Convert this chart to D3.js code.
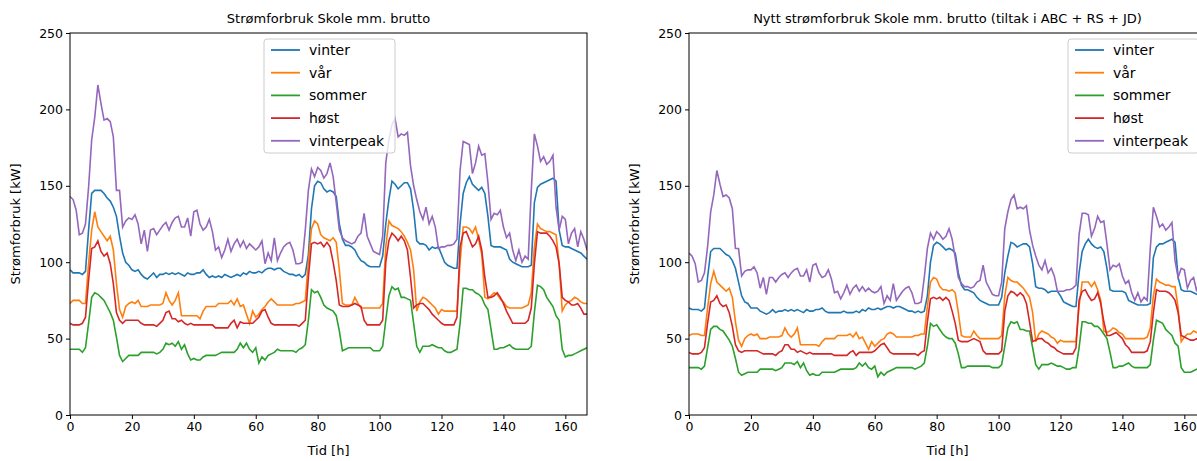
<!DOCTYPE html>
<html><head><meta charset="utf-8">
<script src="https://cdn.jsdelivr.net/npm/d3@7"></script>
<style>body{margin:0;background:#fff}text{font-family:"DejaVu Sans",sans-serif}</style>
</head><body><svg id="c" width="1197" height="461"></svg>
<script>
const seriesNames = ["vinter","vår","sommer","høst","vinterpeak"];
const colors = ["#1f77b4","#ff7f0e","#2ca02c","#d62728","#9467bd"];
const yTicks = [0,50,100,150,200,250];
const xTicks = [0,20,40,60,80,100,120,140,160];
const titles = ["Strømforbruk Skole mm. brutto","Nytt strømforbruk Skole mm. brutto (tiltak i ABC + RS + JD)"];

const vinterL = [95,93,93,93,92,94,
121,145,147,147,147,145,142,140,136,130,117,106,
100,98,95,94,95,92,90,89,91,93,90,92,
92,93,92,93,92,93,92,91,93,92,92,93,
93,95,92,90,91,90,91,90,92,91,90,91,
92,91,93,92,94,93,93,94,93,95,96,96,
95,96,96,94,93,92,92,91,92,90,92,105,
135,150,153,152,148,146,147,146,143,125,115,111,
111,110,108,104,101,100,98,97,97,97,97,104,
125,141,153,151,148,150,152,152,148,134,114,112,
112,111,108,110,109,110,105,100,98,97,96,96,
125,145,152,156,151,149,147,149,145,130,111,110,
110,110,109,108,102,100,99,98,97,97,97,98,
139,149,151,152,153,154,155,153,121,111,110,110,
109,108,107,106,104,102];
const varL = [73,75,75,75,73,73,
99,121,133,123,120,117,114,117,108,86,69,64,
71,73,74,73,75,71,71,71,72,72,72,72,
73,80,75,72,75,80,65,65,65,65,65,65,
63,68,71,71,71,71,73,73,73,73,75,72,
76,71,72,66,60,68,64,66,69,71,74,76,
74,72,72,72,72,72,72,73,73,74,75,100,
122,127,125,118,116,115,114,116,113,95,73,72,
72,72,77,73,70,70,70,70,70,70,70,73,
110,127,124,123,122,120,117,113,108,95,68,74,
77,76,74,72,70,66,69,68,68,68,68,68,
100,123,123,122,119,123,115,105,77,76,78,80,
79,76,74,71,70,70,70,70,70,71,72,80,
110,125,122,121,120,120,119,118,99,68,72,74,
75,77,76,74,73,73];
const sommerL = [43,43,43,43,41,44,
60,77,80,79,77,75,71,67,62,51,39,35,
37,39,39,39,39,41,41,41,41,41,40,41,
43,47,46,47,45,48,43,46,40,36,37,36,
36,38,39,39,39,39,40,41,41,41,41,41,
43,47,44,47,43,41,44,34,38,36,39,40,
41,43,42,42,42,42,42,41,43,44,46,62,
82,80,81,77,72,70,69,68,65,55,42,43,
44,44,44,44,44,44,44,44,42,42,42,45,
62,78,84,82,83,77,77,76,75,60,45,41,
45,45,45,46,45,44,44,42,41,41,42,43,
60,83,83,82,82,80,79,77,72,69,56,43,
43,44,44,45,46,44,43,43,43,43,43,45,
67,85,84,82,77,74,71,65,62,43,38,39,
39,40,41,42,43,44];
const hostL = [60,59,59,59,60,64,
88,109,110,114,107,104,106,99,86,67,62,60,
62,62,62,62,62,60,59,59,59,59,58,60,
62,67,68,63,63,61,62,60,59,60,59,59,
59,59,59,59,59,57,57,57,57,57,60,62,
57,61,60,60,60,60,62,64,68,69,64,60,
59,59,59,59,59,59,59,59,58,60,62,90,
112,113,112,113,110,113,110,100,88,72,71,71,
71,72,73,72,71,62,59,59,59,59,59,62,
100,114,119,117,114,117,114,108,90,70,72,73,
73,71,69,66,64,62,60,59,59,59,59,64,
110,119,120,115,110,112,117,108,90,77,77,78,
80,77,73,68,64,60,60,60,60,60,62,70,
99,120,119,119,119,117,114,110,99,77,75,74,
72,72,73,70,66,66];
const peakL = [143,141,134,118,119,125,
149,180,195,216,204,193,194,192,182,147,147,123,
127,129,128,131,125,112,121,107,121,122,118,121,
124,126,121,126,129,130,123,123,129,117,133,134,
125,121,123,128,120,108,110,103,108,115,107,112,
115,110,114,109,112,110,108,110,114,99,106,101,
116,101,106,110,112,113,108,99,99,100,121,147,
161,156,162,160,155,158,165,156,139,121,116,114,
113,112,113,117,119,132,117,112,107,106,105,117,
165,180,190,194,182,184,183,185,163,150,141,133,
128,136,125,130,123,109,110,110,111,111,112,115,
160,179,178,177,158,165,176,170,171,152,128,132,
131,134,123,116,119,108,101,108,100,104,102,147,
184,176,166,169,164,166,170,136,121,130,128,112,
119,122,110,120,115,108];

const vinterR = [70,69,69,69,68,70,
90,107,109,109,109,107,105,104,101,96,87,78,
74,73,70,70,70,68,67,66,67,69,67,68,
68,69,68,69,68,69,68,67,69,68,68,69,
69,70,68,67,67,67,67,67,68,67,67,67,
68,67,69,68,70,69,69,70,69,70,71,71,
70,71,71,70,69,68,68,67,68,67,68,78,
100,111,113,112,110,108,109,108,106,93,85,82,
82,81,80,77,75,74,73,72,72,72,72,77,
93,104,113,112,110,111,112,112,110,99,84,83,
83,82,80,81,81,81,78,74,73,72,71,71,
93,107,112,115,112,110,109,110,107,96,82,81,
81,81,81,80,75,74,73,72,72,72,72,73,
103,110,112,112,113,114,115,113,90,82,81,81,
81,80,79,78,77,75];
const varR = [52,53,53,53,52,52,
70,86,94,87,85,83,81,83,77,61,49,45,
50,52,53,52,53,50,50,50,51,51,51,51,
52,57,53,51,53,57,46,46,46,46,46,46,
45,48,50,50,50,50,52,52,52,52,53,51,
54,50,51,47,43,48,45,47,49,50,53,54,
53,51,51,51,51,51,51,52,52,53,53,71,
87,90,89,84,82,82,81,82,80,67,52,51,
51,51,55,52,50,50,50,50,50,50,50,52,
78,90,88,87,87,85,83,80,77,67,48,53,
55,54,53,51,50,47,49,48,48,48,48,48,
71,87,87,87,84,87,82,75,55,54,55,57,
56,54,53,50,50,50,50,50,50,50,51,57,
78,89,87,86,85,85,84,84,70,48,51,53,
53,55,54,53,52,52];
const sommerR = [31,31,31,31,30,32,
44,56,58,58,56,55,52,49,45,37,28,26,
27,28,28,28,28,30,30,30,30,30,29,30,
31,34,34,34,33,35,31,34,29,26,27,26,
26,28,28,28,28,28,29,30,30,30,30,30,
31,34,32,34,31,30,32,25,28,26,28,29,
30,31,31,31,31,31,31,30,31,32,34,45,
60,58,59,56,53,51,50,50,47,40,31,31,
32,32,32,32,32,32,32,32,31,31,31,33,
45,57,61,60,61,56,56,55,55,44,33,30,
33,33,33,34,33,32,32,31,30,30,31,31,
44,61,61,60,60,58,58,56,53,50,41,31,
31,32,32,33,34,32,31,31,31,31,31,33,
49,62,61,60,56,54,52,47,45,31,28,28,
28,29,30,31,31,32];
const hostR = [41,40,40,40,41,44,
60,74,75,78,73,71,72,67,58,46,42,41,
42,42,42,42,42,41,40,40,40,40,39,41,
42,46,46,43,43,41,42,41,40,41,40,40,
40,40,40,40,40,39,39,39,39,39,41,42,
39,41,41,41,41,41,42,44,46,47,44,41,
40,40,40,40,40,40,40,40,39,41,42,61,
76,77,76,77,75,77,75,68,60,49,48,48,
48,49,50,49,48,42,40,40,40,40,40,42,
68,78,81,80,78,80,78,73,61,48,49,50,
50,48,47,45,44,42,41,40,40,40,40,44,
75,81,82,78,75,76,80,73,61,52,52,53,
54,52,50,46,44,41,41,41,41,41,42,48,
67,82,81,81,81,80,78,75,67,52,51,50,
49,49,50,48,45,45];
const peakR = [106,104,99,87,88,93,
110,133,144,160,151,143,144,142,135,109,109,91,
94,95,95,97,93,83,90,79,90,90,87,90,
92,93,90,93,95,96,91,91,95,87,98,99,
93,90,91,95,89,80,81,76,80,85,79,83,
85,81,84,81,83,81,80,81,84,73,78,75,
86,75,78,81,83,84,80,73,73,74,90,109,
119,115,120,118,115,117,122,115,103,90,86,84,
84,83,84,87,88,98,87,83,79,78,78,87,
122,133,141,144,135,136,135,137,121,111,104,98,
95,101,93,96,91,81,81,81,82,82,83,85,
118,132,132,131,117,122,130,126,127,112,95,98,
97,99,91,86,88,80,75,80,74,77,75,109,
136,130,123,125,121,123,126,101,90,96,95,83,
88,90,81,89,85,80];

const panels = [
  {data:[vinterL,varL,sommerL,hostL,peakL], x0:70, legX:264},
  {data:[vinterR,varR,sommerR,hostR,peakR], x0:689, legX:1068}
];
const W = 517, yTop = 33, yBot = 415;
const svg = d3.select("#c");

panels.forEach((p, pi) => {
  const x = d3.scaleLinear().domain([0,167]).range([p.x0, p.x0+W]);
  const y = d3.scaleLinear().domain([0,250]).range([yBot, yTop]);
  const g = svg.append("g");
  const clipId = "clip"+pi;
  svg.append("clipPath").attr("id",clipId).append("rect")
    .attr("x",p.x0).attr("y",yTop).attr("width",W).attr("height",yBot-yTop);
  const line = d3.line().x((d,i)=>x(i)).y(d=>y(d));
  p.data.forEach((arr, si) => {
    g.append("path").datum(arr).attr("d", line).attr("fill","none")
      .attr("stroke", colors[si]).attr("stroke-width",1.6).attr("clip-path",`url(#${clipId})`);
  });
  const xa = g.append("g").attr("transform",`translate(0,${yBot})`)
    .call(d3.axisBottom(x).tickValues(xTicks).tickSize(4).tickPadding(3));
  const ya = g.append("g").attr("transform",`translate(${p.x0},0)`)
    .call(d3.axisLeft(y).tickValues(yTicks).tickSize(4).tickPadding(3));
  [xa,ya].forEach(a=>{a.selectAll("text").attr("font-size",12.5).attr("fill","#000");
    a.selectAll("line").attr("stroke","#000"); a.select(".domain").remove();});
  g.append("rect").attr("x",p.x0).attr("y",yTop).attr("width",W).attr("height",yBot-yTop)
    .attr("fill","none").attr("stroke","#000").attr("stroke-width",1);
  g.append("text").attr("x",p.x0+W/2).attr("y",23).attr("text-anchor","middle")
    .attr("font-size",13).text(titles[pi]);
  g.append("text").attr("x",p.x0+W/2).attr("y",455).attr("text-anchor","middle")
    .attr("font-size",13).text("Tid [h]");
  g.append("text").attr("transform",`translate(${p.x0-50},${(yTop+yBot)/2}) rotate(-90)`)
    .attr("text-anchor","middle").attr("font-size",13).text("Strømforbruk [kW]");
  const lg = g.append("g").attr("transform",`translate(${p.legX},39)`);
  lg.append("rect").attr("width",131).attr("height",114).attr("rx",3)
    .attr("fill","#fff").attr("fill-opacity",0.8).attr("stroke","#ccc");
  seriesNames.forEach((n,i)=>{
    const yy = 11 + i*22.7;
    lg.append("line").attr("x1",7).attr("x2",36).attr("y1",yy).attr("y2",yy)
      .attr("stroke",colors[i]).attr("stroke-width",1.8);
    lg.append("text").attr("x",45).attr("y",yy+5).attr("font-size",14).text(n);
  });
});
</script></body></html>
